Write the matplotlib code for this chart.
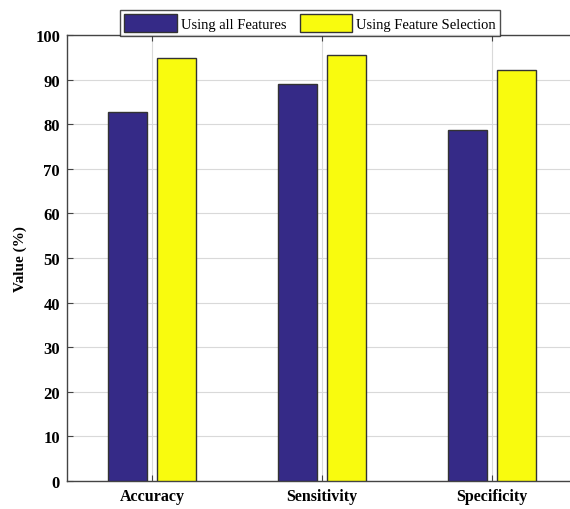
import numpy as np
import matplotlib
matplotlib.use("Agg")
import matplotlib.pyplot as plt

plt.rcParams['font.family'] = ['Liberation Serif', 'DejaVu Serif']

# data
metrics = ["Accuracy", "Sensitivity", "Specificity"]
all_features = [82.7, 89.0, 78.7]
feature_sel = [94.8, 95.6, 92.2]
series_names = ["Using all Features", "Using Feature Selection"]
yticks = [0, 10, 20, 30, 40, 50, 60, 70, 80, 90, 100]

fig = plt.figure(figsize=(5.7, 5.1), dpi=100)
ax = fig.add_axes([0.1175, 0.0549, 0.895, 0.8745])

x = np.arange(1, len(metrics) + 1)
w = 0.23
off = 0.144
ax.bar(x - off, all_features, w, color="#352A87", edgecolor="#333333", linewidth=1.0,
       label=series_names[0], zorder=3)
ax.bar(x + off, feature_sel, w, color="#F9FB0E", edgecolor="#333333", linewidth=1.0,
       label=series_names[1], zorder=3)

ax.set_xlim(0.5, 3.5)
ax.set_ylim(0, 100)
ax.set_yticks(yticks)
ax.set_xticks(x)
ax.set_xticklabels(metrics, fontweight="bold", fontsize=11.5)
for lab in ax.get_yticklabels():
    lab.set_fontweight("bold")
    lab.set_fontsize(12)
ax.set_ylabel("Value (%)", fontweight="bold", fontsize=11, labelpad=6)

ax.grid(True, color="#d9d9d9", linewidth=0.8, zorder=0)
ax.tick_params(direction="in", length=4, color="#444444", top=True, right=False,
               labeltop=False, pad=5)
for s in ax.spines.values():
    s.set_color("#444444")
    s.set_linewidth(1.0)

leg = fig.legend(loc="center", bbox_to_anchor=(0.544, 0.953), ncol=2, fontsize=10.5,
                 frameon=True, fancybox=False, edgecolor="#222222",
                 handlelength=3.6, handleheight=1.5, handletextpad=0.3,
                 columnspacing=0.9, borderpad=0.25, borderaxespad=0)
leg.get_frame().set_linewidth(1.0)
leg.set_zorder(10)

fig.savefig("out.png", dpi=100)
